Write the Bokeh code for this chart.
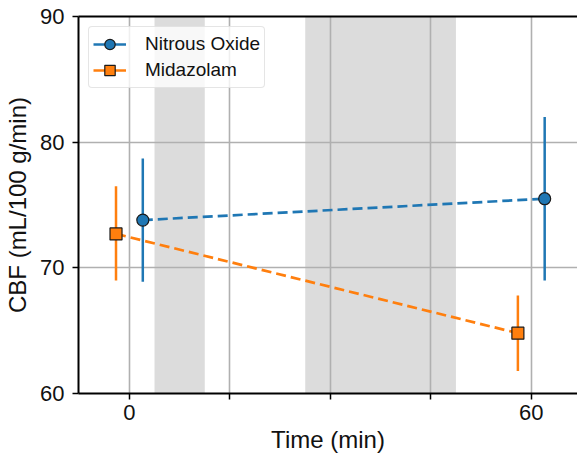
from bokeh.plotting import figure
from bokeh.models import (ColumnDataSource, Range1d, FixedTicker, LinearAxis,
                          Legend, LegendItem)
from bokeh.transform import dodge
from bokeh.embed import file_html
from bokeh.resources import INLINE

# ---- data ----
time_min = [0, 60]
no_mean = [73.8, 75.5]
no_lo = [68.9, 69.0]
no_hi = [78.7, 82.0]
mid_mean = [72.7, 64.8]
mid_lo = [69.0, 61.8]
mid_hi = [76.5, 67.8]
band_start = [3.75, 26.25]
band_end = [11.25, 48.75]
x_ticks = [0, 15, 30, 45, 60]
x_tick_labels = ["0", "", "", "", "60"]
y_ticks = [60, 70, 80, 90]
series_names = ["Nitrous Oxide", "Midazolam"]

FONT = "Liberation Sans"
BLUE = "#1f77b4"
ORANGE = "#ff7f0e"

y_min, y_max = 60, 90
p = figure(width=577, height=456,
           x_range=Range1d(-7.6, 66.9), y_range=Range1d(y_min, y_max),
           output_backend="svg", toolbar_location=None,
           min_border_left=78, min_border_right=0,
           min_border_top=16, min_border_bottom=63)
p.outline_line_color = None
p.background_fill_color = "white"
p.border_fill_color = "white"

# shaded periods
bands = ColumnDataSource(dict(left=band_start, right=band_end,
                              bottom=[y_min] * len(band_start),
                              top=[y_max] * len(band_start)))
p.quad(left="left", right="right", bottom="bottom", top="top", source=bands,
       fill_color="#dcdcdc", line_color=None, level="image")

nan = float("nan")
no_src = ColumnDataSource(dict(t=time_min, m=no_mean, lo=no_lo, hi=no_hi,
                               hidden=[nan] * len(time_min)))
mid_src = ColumnDataSource(dict(t=time_min, m=mid_mean, lo=mid_lo, hi=mid_hi,
                                hidden=[nan] * len(time_min)))

no_x = dodge("t", 2, range=p.x_range)
mid_x = dodge("t", -2, range=p.x_range)

# nitrous oxide
p.line(x=no_x, y="m", source=no_src, line_color=BLUE, line_width=2.7,
       line_dash="10 5")
p.segment(x0=no_x, x1=no_x, y0="lo", y1="hi", source=no_src,
          line_color=BLUE, line_width=2.5)
no_pts = p.scatter(x=no_x, y="m", source=no_src, marker="circle", size=12,
                   fill_color=BLUE, line_color="#1a1a1a", line_width=1.2)

# midazolam
p.line(x=mid_x, y="m", source=mid_src, line_color=ORANGE, line_width=2.7,
       line_dash="10 5")
p.segment(x0=mid_x, x1=mid_x, y0="lo", y1="hi", source=mid_src,
          line_color=ORANGE, line_width=2.5)
mid_pts = p.scatter(x=mid_x, y="m", source=mid_src, marker="square", size=12,
                    fill_color=ORANGE, line_color="#1a1a1a", line_width=1.2)

# legend proxies (solid lines, nothing drawn in the plot)
no_leg = p.line(x=no_x, y="hidden", source=no_src, line_color=BLUE, line_width=2.5)
mid_leg = p.line(x=mid_x, y="hidden", source=mid_src, line_color=ORANGE, line_width=2.5)

legend = Legend(items=[
    LegendItem(label=series_names[0], renderers=[no_leg, no_pts]),
    LegendItem(label=series_names[1], renderers=[mid_leg, mid_pts]),
], location="top_left")
legend.margin = 10
legend.padding = 4
legend.spacing = 0
legend.glyph_width = 33
legend.glyph_height = 26
legend.label_standoff = 19
legend.label_text_font = FONT
legend.label_text_font_size = "19px"
legend.label_text_color = "#111111"
legend.border_line_color = "#cccccc"
legend.border_line_width = 1
legend.border_radius = 4
legend.background_fill_color = "white"
legend.background_fill_alpha = 0.8
p.add_layout(legend)

# axes
p.xaxis.ticker = FixedTicker(ticks=x_ticks)
p.xaxis.major_label_overrides = {t: lab for t, lab in zip(x_ticks, x_tick_labels)}
p.yaxis.ticker = FixedTicker(ticks=y_ticks)
p.xaxis.axis_label = "Time (min)"
p.yaxis.axis_label = "CBF (mL/100 g/min)"
for ax in (p.xaxis, p.yaxis):
    ax.axis_line_color = "black"
    ax.axis_line_width = 2
    ax.major_tick_line_color = "black"
    ax.major_tick_line_width = 1.5
    ax.major_tick_out = 6
    ax.major_tick_in = 0
    ax.minor_tick_line_color = None
    ax.major_label_text_font = FONT
    ax.major_label_text_font_size = "22px"
    ax.major_label_text_color = "#111111"
    ax.axis_label_text_font = FONT
    ax.axis_label_text_font_size = "24px"
    ax.axis_label_text_font_style = "normal"
    ax.axis_label_text_color = "#111111"
p.xaxis.major_label_standoff = 5
p.xaxis.axis_label_standoff = 3
p.yaxis.major_label_standoff = 8
p.yaxis.axis_label_standoff = 6

top_axis = LinearAxis(ticker=FixedTicker(ticks=[]), axis_line_color="black",
                      axis_line_width=2, major_tick_line_color=None,
                      minor_tick_line_color=None,
                      major_label_text_font_size="0px")
p.add_layout(top_axis, "above")

p.xgrid.ticker = FixedTicker(ticks=x_ticks)
p.ygrid.ticker = FixedTicker(ticks=y_ticks)
p.grid.grid_line_color = "#b0b0b0"
p.grid.grid_line_width = 1.6

open("out.html", "w").write(file_html(p, INLINE))
